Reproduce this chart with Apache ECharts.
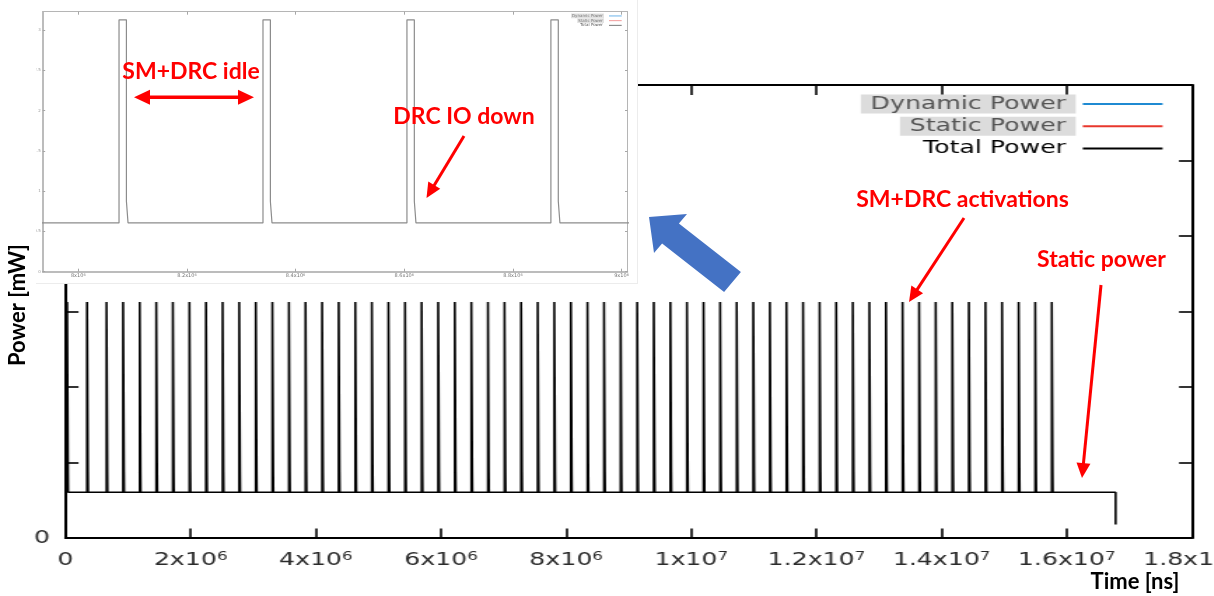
<!DOCTYPE html>
<html>
<head>
<meta charset="utf-8">
<script src="https://cdn.jsdelivr.net/npm/echarts@6/dist/echarts.min.js"></script>
<style>
  html, body { margin: 0; padding: 0; background: #fff; width: 1214px; height: 596px; overflow: hidden; }
  /* full run, rendered narrow and stretched horizontally */
  #main { position: absolute; left: 0; top: 0; width: 868px; height: 596px; transform: scaleX(1.4); transform-origin: 0 0; }
  /* zoomed window on 8e6..9e6 ns */
  #inset { position: absolute; left: 36px; top: 0; width: 602px; height: 284px; background: #fff;
           border-right: 1px solid #ececec; border-bottom: 1px solid #ececec; box-sizing: border-box; }
  #notes { position: absolute; left: 0; top: 0; width: 1214px; height: 596px; pointer-events: none; }
</style>
</head>
<body>
<div id="main"></div>
<div id="inset"></div>
<div id="notes"></div>
<script>
// ---- power trace (time in ns, power in mW) ----
// start time of every SM+DRC activation
const pulseStarts = [
  25000, 344000, 655000, 920000, 1185000, 1450000, 1715000, 1980000, 2245000, 2510000,
  2775000, 3040000, 3305000, 3570000, 3835000, 4100000, 4365000, 4630000, 4895000, 5160000,
  5425000, 5690000, 5955000, 6220000, 6485000, 6750000, 7015000, 7280000, 7545000, 7810000,
  8075000, 8340000, 8605000, 8870000, 9135000, 9400000, 9665000, 9930000, 10195000, 10460000,
  10725000, 10990000, 11255000, 11520000, 11785000, 12050000, 12315000, 12580000, 12845000, 13110000,
  13375000, 13640000, 13905000, 14170000, 14435000, 14700000, 14965000, 15230000, 15495000, 15760000
];
const staticPower = 0.605;   // idle level
const peakPower = 3.125;     // SM+DRC active
const ioDownPower = 0.874;   // DRC IO powering down
const activeWidth = 13600;   // ns at peak
const ioDownWidth = 3000;    // ns at IO-down level
const traceEnd = 16780000;   // ns, end of run
const endPower = 0.18;

// axis ticks ({s|..} marks the exponent)
const xTickLabels = ['0', '2x10{s|6}', '4x10{s|6}', '6x10{s|6}', '8x10{s|6}',
                     '1x10{s|7}', '1.2x10{s|7}', '1.4x10{s|7}', '1.6x10{s|7}', '1.8x10{s|7}'];
const yTickLabels = ['0', '', '', '', '', '', ''];
const insetXTicks = [8000000, 8200000, 8400000, 8600000, 8800000, 9000000];
const insetXTickLabels = ['8x10{s|6}', '8.2x10{s|6}', '8.4x10{s|6}', '8.6x10{s|6}', '8.8x10{s|6}', '9x10{s|6}'];
const insetYTicks = [0, 0.5, 1, 1.5, 2, 2.5, 3];
const insetYTickLabels = ['0', '0.5', '1', '1.5', '2', '2.5', '3'];
const seriesNames = ['Dynamic Power', 'Static Power', 'Total Power'];

// step trace of total power built from the activation times
function buildTrace() {
  const pts = [[0, staticPower]];
  pulseStarts.forEach(function (t) {
    const a = t + activeWidth, b = a + ioDownWidth;
    pts.push([t, staticPower], [t, peakPower], [a, peakPower], [a, ioDownPower], [b, ioDownPower], [b, staticPower]);
  });
  pts.push([traceEnd, staticPower], [traceEnd, endPower]);
  return pts;
}
const trace = buildTrace();

// wrap mantissa in {b|..} so it sits below the raised exponent
function sciLabel(t) {
  const k = t.indexOf('{s|');
  return k < 0 ? '{b|' + t + '}' : '{b|' + t.slice(0, k) + '}' + t.slice(k);
}

// ---------- main chart ----------
const mainChart = echarts.init(document.getElementById('main'));
const axisBlack = { color: '#000', width: 2 };
mainChart.setOption({
  animation: false,
  grid: { left: 46.8, right: 16.6, top: 85, bottom: 58, outerBoundsMode: 'none' },
  legend: {
    orient: 'vertical', align: 'right', right: 37.6, top: 94.5, padding: 0,
    icon: 'rect', itemWidth: 57, itemHeight: 2, itemGap: 3.3, selectedMode: false,
    textStyle: { fontFamily: 'DejaVu Sans', fontSize: 18, lineHeight: 19, color: '#000' },
    data: [
      { name: seriesNames[0], textStyle: { color: '#555', backgroundColor: '#dcdcdc', padding: [0, 7, 0, 7] } },
      { name: seriesNames[1], textStyle: { color: '#555', backgroundColor: '#dcdcdc', padding: [0, 7, 0, 7] } },
      { name: seriesNames[2], textStyle: { color: '#000', padding: [0, 7, 0, 7] } }
    ]
  },
  xAxis: [{
    type: 'value', min: 0, max: 18000000, interval: 2000000, position: 'bottom',
    axisLine: { onZero: false, lineStyle: axisBlack },
    axisTick: { inside: true, length: 9.5, lineStyle: { color: '#000', width: 1.6 } },
    splitLine: { show: false },
    axisLabel: {
      margin: 13, showMinLabel: true, showMaxLabel: true, hideOverlap: false,
      color: '#2b2b2b', fontFamily: 'DejaVu Sans', fontSize: 18,
      formatter: function (v) { return sciLabel(xTickLabels[Math.round(v / 2000000)]); },
      rich: {
        b: { fontFamily: 'DejaVu Sans', fontSize: 18, lineHeight: 18, padding: [7, 0, 0, 0], verticalAlign: 'bottom', color: '#2b2b2b' },
        s: { fontFamily: 'DejaVu Sans', fontSize: 12, lineHeight: 12, verticalAlign: 'top', color: '#2b2b2b' }
      }
    }
  }, {
    type: 'value', min: 0, max: 18000000, interval: 2000000, position: 'top',
    axisLine: { onZero: false, lineStyle: axisBlack },
    axisTick: { inside: true, length: 10, lineStyle: { color: '#000', width: 1.6 } },
    axisLabel: { show: false }, splitLine: { show: false }
  }],
  yAxis: [{
    type: 'value', min: 0, max: 6, interval: 1, position: 'left',
    axisLine: { show: true, onZero: false, lineStyle: axisBlack },
    axisTick: { show: true, inside: true, length: 9.3, lineStyle: { color: '#000', width: 1.6 } },
    splitLine: { show: false },
    axisLabel: { margin: 11, color: '#2b2b2b', fontFamily: 'DejaVu Sans', fontSize: 18,
                 formatter: function (v) { return yTickLabels[Math.round(v)] || ''; } }
  }, {
    type: 'value', min: 0, max: 6, interval: 1, position: 'right',
    axisLine: { show: true, onZero: false, lineStyle: axisBlack },
    axisTick: { show: true, inside: true, length: 9.3, lineStyle: { color: '#000', width: 1.6 } },
    splitLine: { show: false }, axisLabel: { show: false }
  }],
  series: [
    { name: seriesNames[0], type: 'line', data: [], color: '#1f8ad2' },
    { name: seriesNames[1], type: 'line', data: [], color: '#e8372c' },
    { name: seriesNames[2], type: 'line', data: trace, color: '#000', showSymbol: false,
      lineStyle: { color: '#000', width: 1.6 } }
  ]
});

// ---------- zoomed window ----------
const insetChart = echarts.init(document.getElementById('inset'));
const grayAxis = { color: '#a6a6a6', width: 1.5 };
const insetRich = {
  b: { fontFamily: 'DejaVu Sans', fontSize: 5, lineHeight: 5, color: '#777' },
  s: { fontFamily: 'DejaVu Sans', fontSize: 3.5, lineHeight: 3.5, verticalAlign: 'top', color: '#777' }
};
insetChart.setOption({
  animation: false,
  grid: { left: 6.7, right: 9.5, top: 11.7, bottom: 11.3, outerBoundsMode: 'none' },
  legend: {
    orient: 'vertical', align: 'right', right: 15.3, top: 13.6, padding: 0,
    icon: 'rect', itemWidth: 12.7, itemHeight: 1, itemGap: 0, selectedMode: false,
    textStyle: { fontFamily: 'DejaVu Sans', fontSize: 4, lineHeight: 4.7, color: '#555' },
    data: [
      { name: seriesNames[0], textStyle: { color: '#777', backgroundColor: '#e2e2e2', padding: [0, 1, 0, 1] } },
      { name: seriesNames[1], textStyle: { color: '#777', backgroundColor: '#e2e2e2', padding: [0, 1, 0, 1] } },
      { name: seriesNames[2], textStyle: { color: '#555', padding: [0, 1, 0, 1] } }
    ]
  },
  xAxis: [{
    type: 'value', min: 7934500, max: 9011000, position: 'bottom',
    axisLine: { onZero: false, lineStyle: grayAxis },
    axisTick: { inside: true, length: 3, customValues: insetXTicks, lineStyle: { color: '#a6a6a6', width: 1 } },
    splitLine: { show: false },
    axisLabel: {
      margin: 1.5, customValues: insetXTicks, showMaxLabel: true, hideOverlap: false,
      formatter: function (v) {
        const i = insetXTicks.indexOf(v);
        return i < 0 ? '' : sciLabel(insetXTickLabels[i]);
      },
      rich: insetRich
    }
  }, {
    type: 'value', min: 7934500, max: 9011000, position: 'top',
    axisLine: { onZero: false, lineStyle: { color: '#b5b5b5', width: 1 } },
    axisTick: { inside: true, length: 3, customValues: insetXTicks, lineStyle: { color: '#a6a6a6', width: 1 } },
    axisLabel: { show: false }, splitLine: { show: false }
  }],
  yAxis: [{
    type: 'value', min: 0, max: 3.226, position: 'left',
    axisLine: { show: true, onZero: false, lineStyle: grayAxis },
    axisTick: { show: true, inside: true, length: 2.5, customValues: insetYTicks, lineStyle: { color: '#a6a6a6', width: 1 } },
    splitLine: { show: false },
    axisLabel: {
      margin: 2, customValues: insetYTicks, color: '#999', fontFamily: 'DejaVu Sans', fontSize: 4,
      formatter: function (v) { const i = insetYTicks.indexOf(v); return i < 0 ? '' : insetYTickLabels[i]; }
    }
  }, {
    type: 'value', min: 0, max: 3.226, position: 'right',
    axisLine: { show: true, onZero: false, lineStyle: { color: '#b5b5b5', width: 1 } },
    axisTick: { show: true, inside: true, length: 2.5, customValues: insetYTicks, lineStyle: { color: '#a6a6a6', width: 1 } },
    splitLine: { show: false }, axisLabel: { show: false }
  }],
  series: [
    { name: seriesNames[0], type: 'line', data: [], color: '#6bb3ea' },
    { name: seriesNames[1], type: 'line', data: [], color: '#f29a9a' },
    { name: seriesNames[2], type: 'line', data: trace, color: '#777', showSymbol: false,
      lineStyle: { color: '#8c8c8c', width: 1.2 } }
  ]
});

// ---------- callouts ----------
function head(tx, ty, fx, fy, len, hw) {
  const dx = tx - fx, dy = ty - fy, d = Math.hypot(dx, dy);
  const ux = dx / d, uy = dy / d;
  const bx = tx - ux * len, by = ty - uy * len;
  return [[tx, ty], [bx - uy * hw, by + ux * hw], [bx + uy * hw, by - ux * hw]];
}
function redArrow(fx, fy, tx, ty) {
  const dx = tx - fx, dy = ty - fy, d = Math.hypot(dx, dy);
  return [
    { type: 'line', shape: { x1: fx, y1: fy, x2: tx - dx / d * 10, y2: ty - dy / d * 10 },
      style: { stroke: '#ff0000', lineWidth: 3 } },
    { type: 'polygon', shape: { points: head(tx, ty, fx, fy, 15, 7) }, style: { fill: '#ff0000' } }
  ];
}
function label(x, y, text) {
  return { type: 'text', x: x, y: y,
    style: { text: text, fill: '#ff0000', font: 'bold 23px Lato',
             textAlign: 'center', textVerticalAlign: 'middle' } };
}
function axisTitle(x, y, text, rot) {
  return { type: 'text', x: x, y: y, rotation: rot || 0,
    style: { text: text, fill: '#000', font: 'bold 22px Lato', textAlign: 'center', textVerticalAlign: 'middle' } };
}

const notes = echarts.init(document.getElementById('notes'));
notes.setOption({
  animation: false,
  graphic: [].concat(
    [{ type: 'polygon', shape: { points: [[649, 217], [687, 214], [678.9, 223.6], [740.9, 272.1],
                                           [724.1, 291.9], [662.1, 243.4], [654, 253]] },
       style: { fill: '#4472c4' } }],
    [{ type: 'line', shape: { x1: 145, y1: 97.3, x2: 243, y2: 97.3 }, style: { stroke: '#ff0000', lineWidth: 3.5 } },
     { type: 'polygon', shape: { points: head(134, 97.3, 253, 97.3, 16, 7.5) }, style: { fill: '#ff0000' } },
     { type: 'polygon', shape: { points: head(254, 97.3, 135, 97.3, 16, 7.5) }, style: { fill: '#ff0000' } }],
    redArrow(464, 136, 426.5, 198),
    redArrow(964, 218, 909, 302),
    redArrow(1101, 285, 1082, 478),
    [label(191, 71.7, 'SM+DRC idle'),
     label(464, 117, 'DRC IO down'),
     label(962.5, 200, 'SM+DRC activations'),
     label(1101.5, 260, 'Static power'),
     axisTitle(18, 305, 'Power [mW]', Math.PI / 2),
     axisTitle(1135, 582, 'Time [ns]')]
  )
});
</script>
</body>
</html>
